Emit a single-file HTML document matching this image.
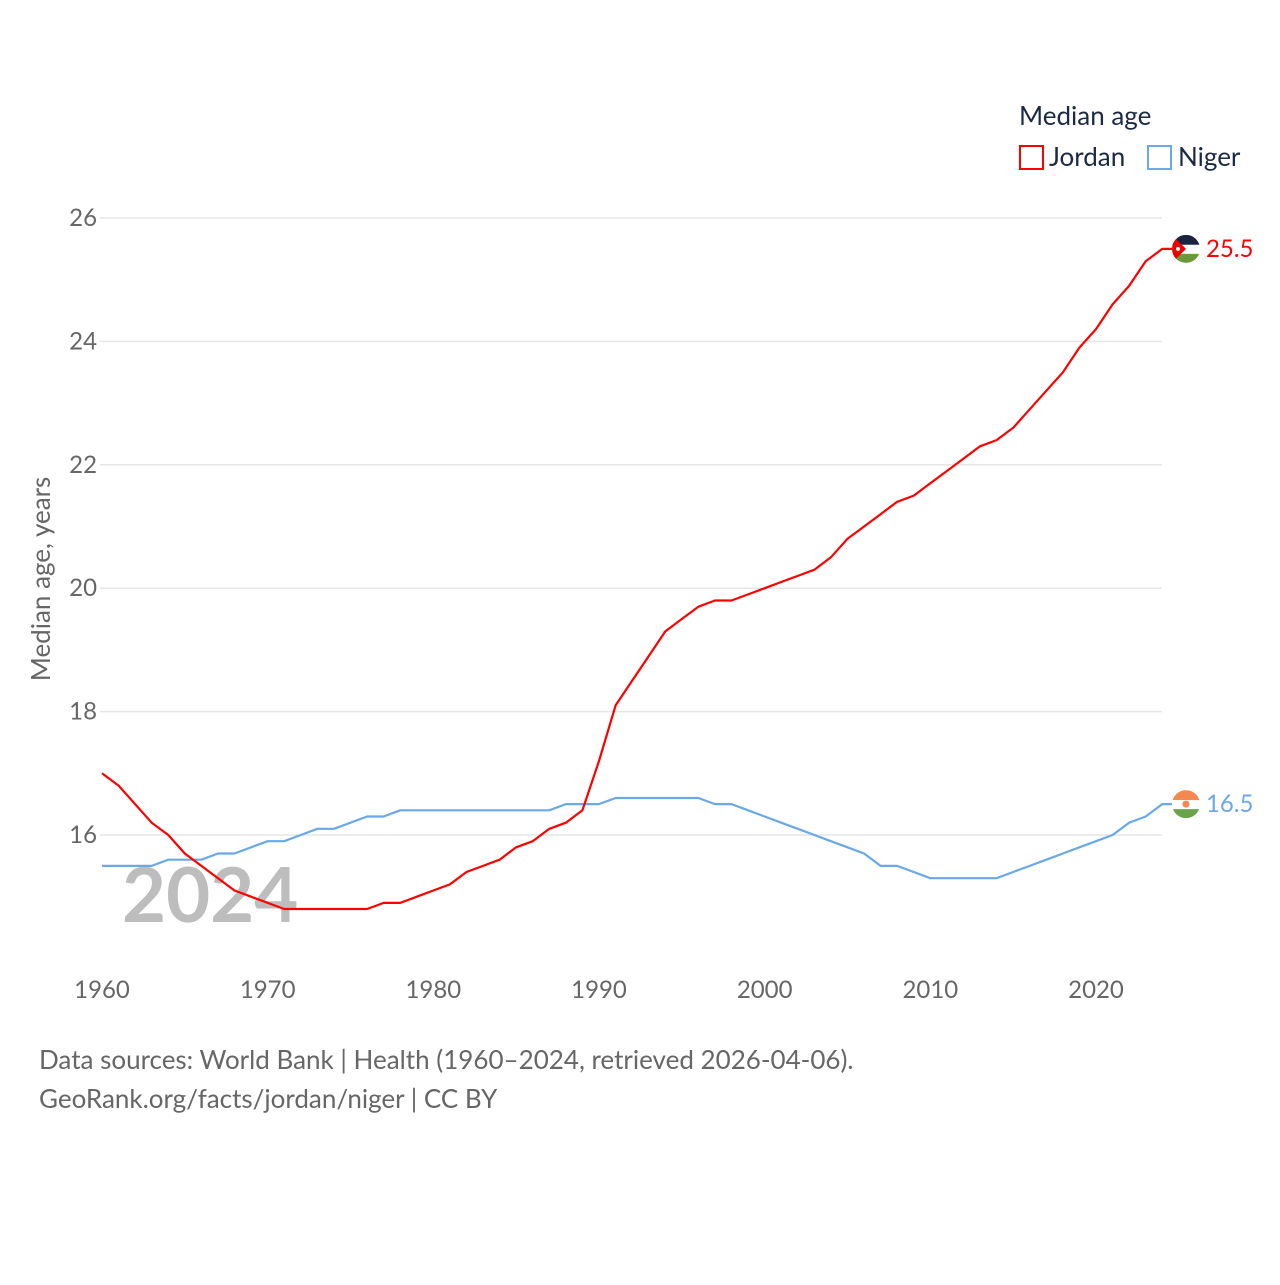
<!DOCTYPE html>
<html><head><meta charset="utf-8"><style>
html,body{margin:0;padding:0;background:#fff;}
body{width:1280px;height:1280px;position:relative;font-family:"Liberation Sans",sans-serif;overflow:hidden;}
svg text{font-family:"Lato","Liberation Sans",sans-serif;}
</style></head><body>
<svg id="chart" width="1280" height="1280" xmlns="http://www.w3.org/2000/svg">
<g id="grid"></g>
<g id="yticks"></g>
<g id="xticks"></g>
<text x="122" y="922" font-size="76" font-weight="bold" fill="#bdbdbd">2024</text>
<text transform="translate(50,579) rotate(-90)" text-anchor="middle" font-size="26" fill="#666">Median age, years</text>
<g id="series"></g>
<g>
<text x="1019" y="125" font-size="26" fill="#1a2a44">Median age</text>
<rect x="1020" y="146" width="23" height="23" fill="none" stroke="#f00" stroke-width="2"/>
<text x="1049" y="166" font-size="26" fill="#1a2a44">Jordan</text>
<rect x="1148" y="146" width="23" height="23" fill="none" stroke="#6aa8e8" stroke-width="2"/>
<text x="1178" y="166" font-size="26" fill="#1a2a44">Niger</text>
</g>
<text x="39" y="1069" font-size="26" fill="#666">Data sources: World Bank | Health (1960–2024, retrieved 2026-04-06).</text>
<text x="39" y="1108" font-size="26" fill="#666">GeoRank.org/facts/jordan/niger | CC BY</text>
</svg>
<script>
const years = [];
for (let y = 1960; y <= 2024; y++) years.push(y);
const jordan = [17.0,16.8,16.5,16.2,16.0,15.7,15.5,15.3,15.1,15.0,14.9,14.8,14.8,14.8,14.8,14.8,14.8,14.9,14.9,15.0,15.1,15.2,15.4,15.5,15.6,15.8,15.9,16.1,16.2,16.4,17.2,18.1,18.5,18.9,19.3,19.5,19.7,19.8,19.8,19.9,20.0,20.1,20.2,20.3,20.5,20.8,21.0,21.2,21.4,21.5,21.7,21.9,22.1,22.3,22.4,22.6,22.9,23.2,23.5,23.9,24.2,24.6,24.9,25.3,25.5];
const niger = [15.5,15.5,15.5,15.5,15.6,15.6,15.6,15.7,15.7,15.8,15.9,15.9,16.0,16.1,16.1,16.2,16.3,16.3,16.4,16.4,16.4,16.4,16.4,16.4,16.4,16.4,16.4,16.4,16.5,16.5,16.5,16.6,16.6,16.6,16.6,16.6,16.6,16.5,16.5,16.4,16.3,16.2,16.1,16.0,15.9,15.8,15.7,15.5,15.5,15.4,15.3,15.3,15.3,15.3,15.3,15.4,15.5,15.6,15.7,15.8,15.9,16.0,16.2,16.3,16.5];
const yTicks = [16,18,20,22,24,26];
const xTicks = [1960,1970,1980,1990,2000,2010,2020];

const NS = "http://www.w3.org/2000/svg";
const X = v => 102 + (v - 1960) * (994 / 60);
const Y = v => 835 - (v - 16) * (617 / 10);
function mk(tag, attrs, parent) {
  const e = document.createElementNS(NS, tag);
  for (const k in attrs) e.setAttribute(k, attrs[k]);
  parent.appendChild(e);
  return e;
}
const grid = document.getElementById('grid'), yt = document.getElementById('yticks'), xt = document.getElementById('xticks'), ser = document.getElementById('series');
yTicks.forEach(t => {
  const l = mk('line', {x1: 100, x2: 1162, y1: Y(t), y2: Y(t), stroke: '#e6e6e6', 'stroke-width': 1.5}, grid);
  
  
  const tx = mk('text', {x: 97, y: Y(t) + 8, 'text-anchor': 'end', 'font-size': 24, fill: '#666'}, yt);
  tx.textContent = t;
  
  
});
xTicks.forEach(t => {
  const tx = mk('text', {x: X(t), y: 998, 'text-anchor': 'middle', 'font-size': 24, fill: '#666'}, xt);
  tx.textContent = t;
  
  
});
function line(data, color, name) {
  const last = data[data.length - 1];
  let d = data.map((v, i) => (i ? 'L' : 'M') + X(years[i]).toFixed(1) + ',' + Y(v).toFixed(1)).join(' ');
  d += ' L1172,' + Y(last).toFixed(1);
  const p = mk('path', {d: d, fill: 'none', stroke: color, 'stroke-width': 2.2, 'stroke-linejoin': 'round'}, ser);
  
  
  const cy = Y(last), cx = 1186;
  const g = mk('g', {}, ser);
  
  
  const cid = 'clip-' + name;
  const cp = mk('clipPath', {id: cid}, g);
  mk('circle', {cx: cx, cy: cy, r: 14}, cp);
  const fg = mk('g', {'clip-path': 'url(#' + cid + ')'}, g);
  if (name === 'jordan') {
    mk('rect', {x: cx - 14, y: cy - 14, width: 28, height: 10, fill: '#1a2440'}, fg);
    mk('rect', {x: cx - 14, y: cy - 4, width: 28, height: 9, fill: '#fff'}, fg);
    mk('rect', {x: cx - 14, y: cy + 5, width: 28, height: 10, fill: '#6a9a3a'}, fg);
    mk('path', {d: `M${cx-14},${cy-14} L${cx},${cy} L${cx-14},${cy+14}Z`, fill: '#e00'}, fg);
    mk('circle', {cx: cx - 8, cy: cy, r: 2, fill: '#fff'}, fg);
  } else {
    mk('rect', {x: cx - 14, y: cy - 14, width: 28, height: 10, fill: '#f4894f'}, fg);
    mk('rect', {x: cx - 14, y: cy - 4, width: 28, height: 9, fill: '#fff'}, fg);
    mk('rect', {x: cx - 14, y: cy + 5, width: 28, height: 10, fill: '#6aa34a'}, fg);
    mk('circle', {cx: cx, cy: cy, r: 3.5, fill: '#f4894f'}, fg);
  }
  const lb = mk('text', {x: 1206, y: cy + 8, 'font-size': 24, fill: color}, ser);
  lb.textContent = last.toFixed(1);
  
  
}
line(niger, '#6aa8e8', 'niger');
line(jordan, '#f00', 'jordan');
</script>
</body></html>
